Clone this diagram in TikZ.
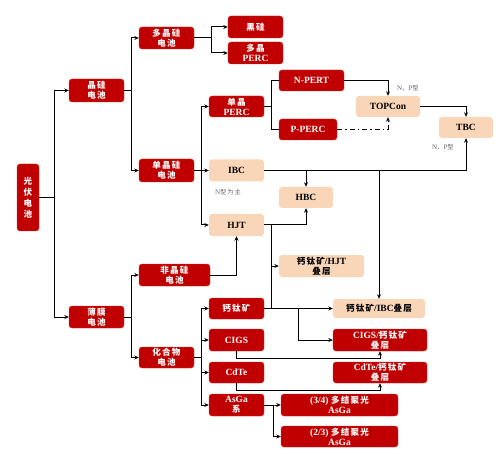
\documentclass[tikz,border=0pt]{standalone}
\usepackage{fontspec}
\setmainfont{Liberation Serif}
\newfontfamily\cjk{Noto Sans CJK SC}[Scale=0.9, LetterSpace=14]
\usetikzlibrary{arrows.meta}
\definecolor{boxred}{RGB}{192,0,0}
\definecolor{boxpeach}{RGB}{250,214,184}
\newcommand{\zh}[1]{{\cjk #1}}
\begin{document}
\begin{tikzpicture}[x=1pt,y=-1pt,
  sz/.style 2 args={minimum width=#1pt, minimum height=#2pt},
  redbox/.style={fill=boxred, draw=boxred!80!white, line width=0.4pt, rounded corners=3pt, text=white, font=\bfseries\fontsize{9.5}{10}\selectfont, align=center, inner sep=0pt},
  peachbox/.style={fill=boxpeach, rounded corners=3pt, text=black, font=\bfseries\fontsize{9.5}{10}\selectfont, align=center, inner sep=0pt},
  link/.style={draw=black, line width=1pt},
  arr/.style={link, -{Stealth[length=4.5pt,width=4pt]}},
  note/.style={text=black!60, font=\fontsize{7}{8}\selectfont, inner sep=0pt}]
\useasboundingbox (0,0) rectangle (500,454);
% level 0
\node[redbox, sz={22}{67}, font=\bfseries\fontsize{9.5}{11}\selectfont] (gf) at (28,197.5) {\zh{光}\\\zh{伏}\\\zh{电}\\\zh{池}};
% level 1
\node[redbox, sz={55}{23}] (jg) at (96.5,90.5) {\zh{晶硅}\\\zh{电池}};
\node[redbox, sz={55}{22}] (bm) at (96.5,317) {\zh{薄膜}\\\zh{电池}};
% level 2
\node[redbox, sz={55}{22}] (dj) at (166.5,38) {\zh{多晶硅}\\\zh{电池}};
\node[redbox, sz={55}{23}] (dan) at (166.5,170.5) {\zh{单晶硅}\\\zh{电池}};
\node[redbox, sz={71}{22}] (fjg) at (174.5,275) {\zh{非晶硅}\\\zh{电池}};
\node[redbox, sz={55}{21}] (hhw) at (166.5,357.5) {\zh{化合物}\\\zh{电池}};
% level 3
\node[redbox, sz={55}{22}] (hg) at (255.5,27) {\zh{黑硅}};
\node[redbox, sz={55}{22}] (dperc) at (255.5,53) {\zh{多晶}\\PERC};
\node[redbox, sz={55}{21}] (sperc) at (236.5,106.5) {\zh{单晶}\\PERC};
\node[peachbox, sz={55}{22}] (ibc) at (236.5,170.5) {IBC};
\node[peachbox, sz={55}{22}] (hjt) at (236.5,225) {HJT};
\node[redbox, sz={55}{21}] (pk) at (236.5,308.5) {\zh{钙钛矿}};
\node[redbox, sz={55}{22}] (cigs) at (236.5,340) {CIGS};
\node[redbox, sz={55}{21}] (cdte) at (236.5,372.5) {CdTe};
\node[redbox, sz={55}{22}] (asga) at (236.5,405) {AsGa\\\zh{系}};
% level 4
\node[redbox, sz={65}{21}] (npert) at (311.5,80.5) {N-PERT};
\node[redbox, sz={58}{21}] (pperc) at (308,129.5) {P-PERC};
\node[peachbox, sz={64}{21}] (topcon) at (388,106.5) {TOPCon};
\node[peachbox, sz={54}{21}] (tbc) at (466,127.5) {TBC};
\node[peachbox, sz={54}{21}] (hbc) at (306,197.5) {HBC};
\node[peachbox, sz={85}{22}] (pkhjt) at (321.5,266) {\zh{钙钛矿}/HJT\\\zh{叠层}};
\node[peachbox, sz={92}{19}] (pkibc) at (379,308.5) {\zh{钙钛矿}/IBC\zh{叠层}};
\node[redbox, sz={94}{22}] (cigspk) at (380,340) {CIGS/\zh{钙钛矿}\\\zh{叠层}};
\node[redbox, sz={94}{21}] (cdtepk) at (380,372.5) {CdTe/\zh{钙钛矿}\\\zh{叠层}};
\node[redbox, sz={117}{22}] (m34) at (339.5,405) {(3/4)\ \zh{多结聚光}\\AsGa};
\node[redbox, sz={117}{21}] (m23) at (339.5,436.5) {(2/3)\ \zh{多结聚光}\\AsGa};
% notes
\node[note] (n1) at (228,192) {N\zh{型为主}};
\node[note] (n2) at (408,88) {N\zh{、}P\zh{型}};
\node[note] (n3) at (443,147) {N\zh{、}P\zh{型}};
% connectors
\draw[arr] (gf.east) -- ++(15,0) |- (jg.west);
\draw[arr] (gf.east) -- ++(15,0) |- (bm.west);
\draw[arr] (jg.east) -- ++(7,0) |- (dj.west);
\draw[arr] (jg.east) -- ++(7,0) |- (dan.west);
\draw[arr] (bm.east) -- ++(7,0) |- (fjg.west);
\draw[arr] (bm.east) -- ++(7,0) |- (hhw.west);
\draw[arr] (dj.east) -- ++(17,0) |- (hg.west);
\draw[arr] (dj.east) -- ++(17,0) |- (dperc.west);
\draw[arr] (dan.east) -- ++(7,0) |- (sperc.west);
\draw[arr] (dan.east) -- (ibc.west);
\draw[arr] (dan.east) -- ++(7,0) |- (hjt.west);
\draw[link] (sperc.east) -- ++(7,0) |- (npert.west);
\draw[link] (sperc.east) -- ++(7,0) |- (pperc.west);
\draw[arr] (npert.east) -| (topcon.north);
\draw[arr, dash pattern=on 5pt off 3pt on 1.5pt off 3pt] (pperc.east) -| (topcon.south);
\draw[arr] (topcon.east) -| (tbc.north);
\draw[arr] (ibc.east) -| (tbc.south);
\draw[arr] (hbc.north |- ibc.east) -- (hbc.north);
\draw[arr] (pkibc.north |- ibc.east) -- (pkibc.north);
\draw[arr] (hjt.east) -| (hbc.south);
\draw[arr] ([xshift=7pt]hjt.east) |- (pkhjt.west);
\draw[link] ([xshift=7pt]hjt.east) -- ([xshift=7pt]hjt.east |- pk.east);
\draw[arr] (fjg.east) -| (hjt.south);
\draw[arr] (hhw.east) -- ++(7,0) |- (pk.west);
\draw[arr] (hhw.east) -- ++(7,0) |- (cigs.west);
\draw[arr] (hhw.east) -- ++(7,0) |- (cdte.west);
\draw[arr] (hhw.east) -- ++(7,0) |- (asga.west);
\draw[arr] (pk.east) -- (pkibc.west);
\draw[arr] ([xshift=34pt]pk.east) |- (cigspk.west);
\draw[arr] (cigs.south) -- ++(0,7) -| (cigspk.south);
\draw[arr] (cdte.south) -- ++(0,7) -| (cdtepk.south);
\draw[arr] (asga.east) -- ++(9,0) |- (m34.west);
\draw[arr] (asga.east) -- ++(9,0) |- (m23.west);
\end{tikzpicture}
\end{document}
